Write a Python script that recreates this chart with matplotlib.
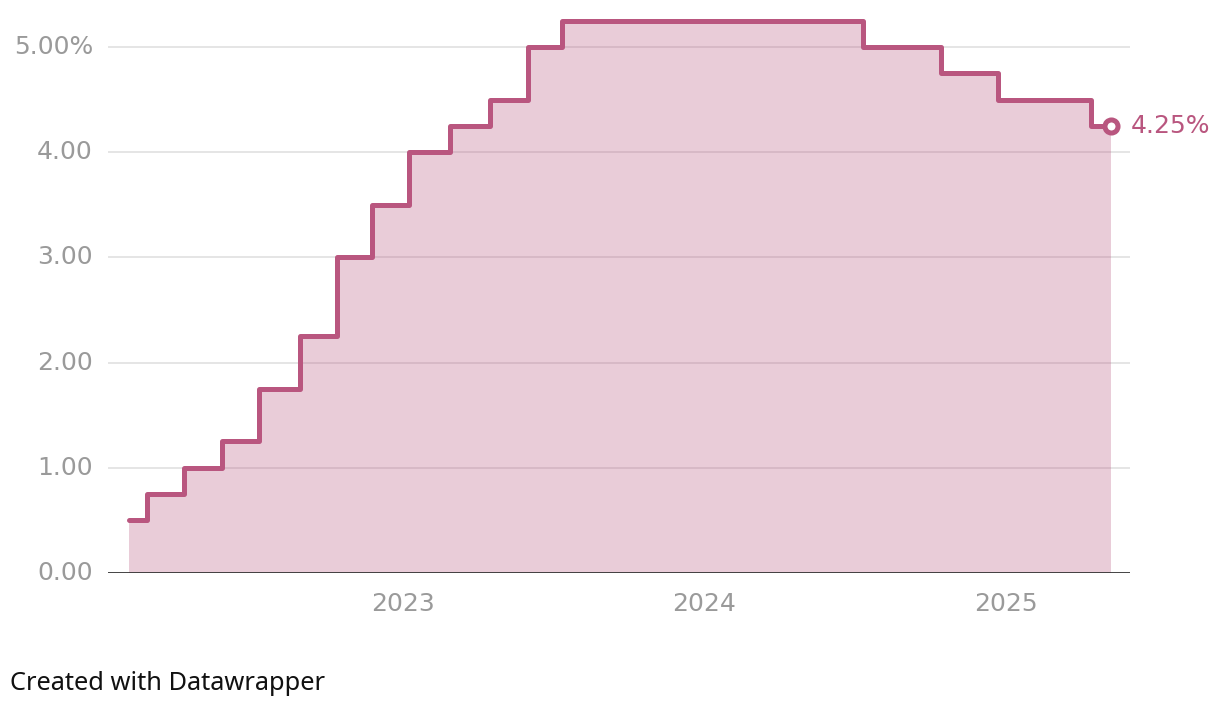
import matplotlib
matplotlib.use("Agg")
import matplotlib.pyplot as plt
import matplotlib.transforms as mtransforms
import pandas as pd

# Bank Rate at each MPC announcement (date, rate %)
meeting_dates = ["2022-02-03", "2022-03-17", "2022-05-05", "2022-06-16",
                 "2022-08-04", "2022-09-22", "2022-11-03", "2022-12-15",
                 "2023-02-02", "2023-03-23", "2023-05-11", "2023-06-22",
                 "2023-08-03", "2023-09-21", "2023-11-02", "2023-12-14",
                 "2024-02-01", "2024-03-21", "2024-05-09", "2024-06-20",
                 "2024-08-01", "2024-09-19", "2024-11-07",
                 "2025-02-06", "2025-03-20", "2025-05-08"]
rates = [0.50, 0.75, 1.00, 1.25, 1.75, 2.25, 3.00, 3.50,
         4.00, 4.25, 4.50, 5.00, 5.25, 5.25, 5.25, 5.25,
         5.25, 5.25, 5.25, 5.25, 5.00, 5.00, 4.75,
         4.50, 4.50, 4.25]
y_ticks = [0, 1, 2, 3, 4, 5]
y_labels = ["0.00", "1.00", "2.00", "3.00", "4.00", "5.00%"]
x_ticks = ["2023-01-01", "2024-01-01", "2025-01-01"]
x_labels = ["2023", "2024", "2025"]

LINE = "#b9567f"
GREY = "#9a9a9a"

plt.rcParams["font.family"] = ["DejaVu Sans"]

dates = pd.to_datetime(meeting_dates)

fig = plt.figure(figsize=(12.2, 7.1), dpi=100)
ax = fig.add_axes([108 / 1220, 1 - 573 / 710, 1022 / 1220, 557.6 / 710])

# datawrapper's step curve changes level halfway between points
ax.fill_between(dates, rates, 0, step="mid", color=LINE, alpha=0.3,
                linewidth=0, zorder=2)
ax.step(dates, rates, where="mid", color=LINE, linewidth=3.6,
        solid_joinstyle="round", solid_capstyle="round", zorder=3)
ax.plot([dates[-1]], [rates[-1]], marker="o", markersize=9.4,
        markerfacecolor="white", markeredgecolor=LINE, markeredgewidth=3.6,
        zorder=4)
ax.annotate(f"{rates[-1]:.2f}%", (dates[-1], rates[-1]), xytext=(14, 0),
            textcoords="offset points", ha="left", va="center",
            fontsize=18, color=LINE)

ax.set_xlim(pd.Timestamp("2022-01-08"), pd.Timestamp("2025-05-31"))
ax.set_ylim(0, 5.3)

for y in y_ticks[1:]:
    ax.axhline(y, color="#dedede", linewidth=1.1, zorder=1)
ax.axhline(0, color="#333333", linewidth=2.0, zorder=5)

ax.set_yticks([])
trans = mtransforms.blended_transform_factory(fig.transFigure, ax.transData)
for y, lab in zip(y_ticks, y_labels):
    ax.text(93 / 1220, y, lab, transform=trans, ha="right", va="center",
            fontsize=18, color=GREY)

ax.set_xticks(pd.to_datetime(x_ticks))
ax.set_xticklabels(x_labels, fontsize=18, color=GREY)
ax.tick_params(axis="x", length=0, pad=14)

for s in ax.spines.values():
    s.set_visible(False)

fig.text(10 / 1220, 1 - 683 / 710, "Created with Datawrapper",
         ha="left", va="center", fontsize=18.3, color="#111111",
         family=["Noto Sans", "DejaVu Sans"])

fig.savefig("out.png", dpi=100)
